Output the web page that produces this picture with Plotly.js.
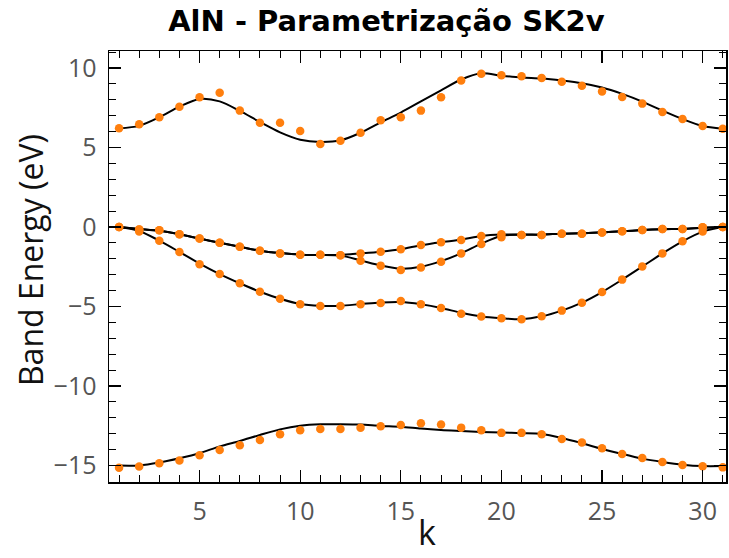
<!DOCTYPE html>
<html>
<head>
<meta charset="utf-8">
<script src="https://cdn.plot.ly/plotly-3.0.1.min.js"></script>
<style>html,body{margin:0;padding:0;background:#fff;}#chart{width:729px;height:558px;}</style>
</head>
<body>
<div id="chart"></div>
<script>
// k points
const k = [1,2,3,4,5,6,7,8,9,10,11,12,13,14,15,16,17,18,19,20,21,22,23,24,25,26,27,28,29,30,31];

// Conduction band: reference (dots) and SK2v fit (line)
const cbRef = [6.21,6.46,6.90,7.57,8.16,8.45,7.32,6.56,6.56,6.04,5.22,5.43,5.93,6.71,6.90,7.32,8.16,9.22,9.64,9.54,9.48,9.37,9.14,8.89,8.53,8.18,7.76,7.23,6.79,6.35,6.18];
const cbFit = [6.20,6.36,6.90,7.57,8.05,7.90,7.30,6.60,5.95,5.49,5.35,5.45,5.93,6.58,7.20,7.90,8.60,9.28,9.67,9.52,9.40,9.34,9.21,9.04,8.77,8.37,7.89,7.32,6.79,6.35,6.18];

// Valence band A (upper branch)
const vaRef = [0,-0.15,-0.21,-0.46,-0.73,-0.99,-1.24,-1.49,-1.66,-1.74,-1.74,-1.78,-1.66,-1.55,-1.40,-1.13,-0.96,-0.82,-0.57,-0.46,-0.50,-0.50,-0.42,-0.42,-0.34,-0.27,-0.19,-0.13,-0.13,-0.02,0];
const vaFit = [0,-0.12,-0.24,-0.46,-0.73,-0.99,-1.24,-1.49,-1.64,-1.74,-1.76,-1.76,-1.66,-1.55,-1.40,-1.15,-0.96,-0.80,-0.57,-0.48,-0.48,-0.48,-0.42,-0.40,-0.34,-0.27,-0.19,-0.14,-0.12,-0.05,0];

// Valence band B (lower branch, degenerate with A at the ends)
const vbRef = [0,-0.15,-0.21,-0.46,-0.73,-0.99,-1.24,-1.49,-1.66,-1.74,-1.74,-1.78,-2.12,-2.43,-2.70,-2.55,-2.18,-1.66,-1.07,-0.65,-0.50,-0.50,-0.42,-0.42,-0.34,-0.27,-0.19,-0.13,-0.13,-0.02,0];
const vbFit = [0,-0.12,-0.24,-0.46,-0.73,-0.99,-1.24,-1.49,-1.64,-1.74,-1.76,-1.80,-2.10,-2.42,-2.62,-2.50,-2.15,-1.66,-1.05,-0.55,-0.48,-0.48,-0.42,-0.40,-0.34,-0.27,-0.19,-0.14,-0.12,-0.05,0];

// Valence band C
const vcRef = [0,-0.29,-0.86,-1.57,-2.35,-2.96,-3.54,-4.07,-4.51,-4.86,-4.97,-4.97,-4.86,-4.78,-4.65,-4.86,-5.09,-5.45,-5.63,-5.74,-5.81,-5.62,-5.26,-4.76,-4.09,-3.31,-2.49,-1.66,-0.90,-0.29,0];
const vcFit = [0,-0.25,-0.86,-1.57,-2.30,-2.96,-3.54,-4.07,-4.51,-4.84,-4.95,-4.95,-4.85,-4.75,-4.72,-4.86,-5.09,-5.40,-5.63,-5.74,-5.80,-5.62,-5.26,-4.76,-4.09,-3.31,-2.49,-1.66,-0.90,-0.29,0];

// Lowest valence band D
const vdRef = [-15.14,-15.07,-14.86,-14.69,-14.36,-14.03,-13.73,-13.40,-13.04,-12.79,-12.70,-12.70,-12.62,-12.54,-12.45,-12.35,-12.43,-12.62,-12.79,-12.95,-12.95,-13.04,-13.33,-13.56,-13.92,-14.28,-14.53,-14.78,-14.97,-15.05,-15.12];
const vdFit = [-15.01,-15.00,-14.82,-14.55,-14.23,-13.80,-13.46,-13.08,-12.73,-12.50,-12.41,-12.41,-12.43,-12.51,-12.56,-12.68,-12.77,-12.83,-12.89,-12.93,-12.97,-13.02,-13.27,-13.60,-13.96,-14.28,-14.57,-14.78,-14.95,-15.04,-15.04];

const xTicks = [5,10,15,20,25,30];
const yTicks = [-15,-10,-5,0,5,10];

const fits = [cbFit, vaFit, vbFit, vcFit, vdFit];
const refs = [cbRef, vaRef, vbRef, vcRef, vdRef];

const traces = [];
fits.forEach(f => traces.push({
  x: k, y: f, type: 'scatter', mode: 'lines',
  line: {color: '#000000', width: 2, shape: 'spline', smoothing: 0.8},
  hoverinfo: 'skip', showlegend: false
}));
refs.forEach(r => traces.push({
  x: k, y: r, type: 'scatter', mode: 'markers',
  marker: {color: '#ff7f0e', size: 8.5},
  showlegend: false
}));

const axisCommon = {
  showgrid: false, zeroline: false,
  showline: true, linecolor: '#000', linewidth: 1.5, mirror: 'ticks',
  ticks: 'inside', ticklen: 12, tickwidth: 1.2, tickcolor: '#000',
  tickfont: {family: 'Open Sans, sans-serif', size: 25, color: '#555'},
  minor: {ticks: 'inside', ticklen: 7, tickwidth: 1, tickcolor: '#000', dtick: 1}
};

const layout = {
  width: 729, height: 558,
  margin: {l: 109, r: 3, t: 51, b: 76},
  paper_bgcolor: '#fff', plot_bgcolor: '#fff',
  title: {
    text: '<b>AlN - Parametrização SK2v</b>',
    font: {family: 'DejaVu Sans, sans-serif', size: 29, color: '#000'},
    x: 0.53, xref: 'container', xanchor: 'center',
    y: 0.962, yref: 'container', yanchor: 'middle'
  },
  xaxis: Object.assign({}, axisCommon, {
    range: [0.5, 31.16], tickvals: xTicks, ticklabelstandoff: 6
  }),
  yaxis: Object.assign({}, axisCommon, {
    range: [-16.04, 11.07], tickvals: yTicks, ticklabelstandoff: 6
  }),
  annotations: [
    {text: 'Band Energy (eV)', xref: 'paper', yref: 'paper', x: -0.128, y: 0.515,
     xanchor: 'center', yanchor: 'middle', textangle: -90, showarrow: false,
     font: {family: 'Open Sans, sans-serif', size: 32, color: '#111'}},
    {text: 'k', xref: 'paper', yref: 'paper', x: 0.515, y: -0.174,
     xanchor: 'center', yanchor: 'bottom', showarrow: false,
     font: {family: 'Open Sans, sans-serif', size: 34, color: '#111'}}
  ]
};

Plotly.newPlot('chart', traces, layout, {displayModeBar: false, staticPlot: true});
</script>
</body>
</html>
